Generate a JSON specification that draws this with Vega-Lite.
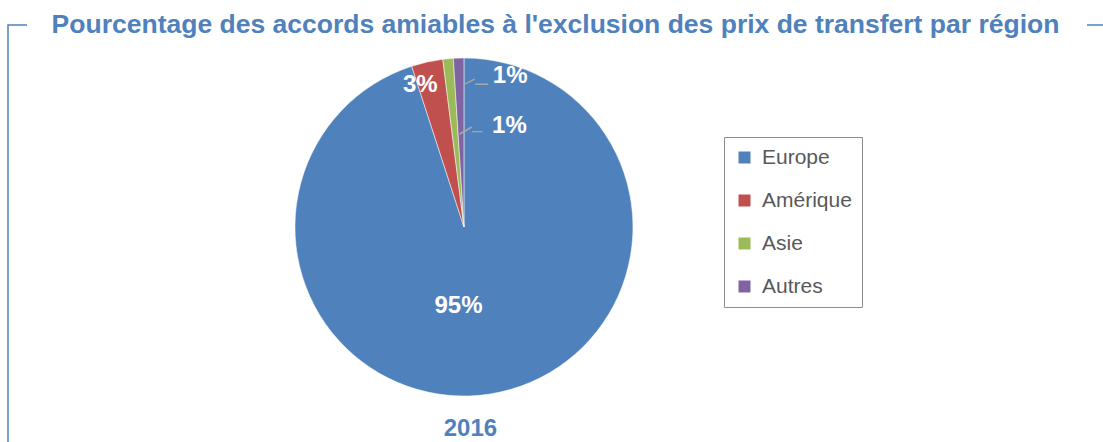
{
  "$schema": "https://vega.github.io/schema/vega-lite/v6.json",
  "width": 1095,
  "height": 417,
  "autosize": {"type": "none"},
  "padding": {"left": 8, "top": 25, "right": 0, "bottom": 0},
  "background": "white",
  "title": {
    "text": "Pourcentage des accords amiables à l'exclusion des prix de transfert par région",
    "font": "Liberation Sans",
    "fontSize": 26.5,
    "fontWeight": "bold",
    "color": "#4F81BD",
    "anchor": "middle",
    "dy": 26,
    "baseline": "alphabetic",
    "offset": -8
  },
  "config": {
    "view": {"stroke": "#4F81BD", "strokeWidth": 1.5, "strokeDash": [19, 1060, 16, 1512, 417]},
    "axis": {"grid": false}
  },
  "data": {
    "values": [
      {"year": "2016", "region": "Europe", "pct": 95, "label": "95%", "idx": 1},
      {"year": "2016", "region": "Amérique", "pct": 3, "label": "3%", "idx": 2},
      {"year": "2016", "region": "Asie", "pct": 1, "label": "1%", "idx": 3},
      {"year": "2016", "region": "Autres", "pct": 1, "label": "1%", "idx": 4}
    ]
  },
  "encoding": {
    "x": {
      "field": "year",
      "type": "nominal",
      "scale": {"type": "point", "align": 0.4164},
      "axis": {
        "title": null,
        "domain": false,
        "ticks": false,
        "labelAngle": 0,
        "labelFont": "Liberation Sans",
        "labelFontSize": 24,
        "labelFontWeight": "bold",
        "labelColor": "#4F81BD",
        "labelBaseline": "middle",
        "labelPadding": 0,
        "labelOffset": 6,
        "offset": -14
      }
    },
    "y": {
      "field": "year",
      "type": "nominal",
      "scale": {"type": "point", "align": 0.4844},
      "axis": null
    },
    "theta": {"field": "pct", "type": "quantitative", "stack": true},
    "order": {"field": "idx", "type": "quantitative"}
  },
  "layer": [
    {
      "mark": {"type": "arc", "outerRadius": 169, "stroke": "white", "strokeWidth": 0.5},
      "encoding": {
        "color": {
          "field": "region",
          "type": "nominal",
          "sort": null,
          "scale": {
            "domain": ["Europe", "Amérique", "Asie", "Autres"],
            "range": ["#4F81BD", "#C0504D", "#9BBB59", "#8064A2"]
          },
          "legend": {
            "orient": "none",
            "legendX": 716,
            "legendY": 112,
            "title": null,
            "strokeColor": "#8c8c8c",
            "padding": 10,
            "symbolType": "square",
            "symbolSize": 144,
            "symbolStrokeWidth": 0,
            "labelFont": "Liberation Sans",
            "labelFontSize": 21,
            "labelColor": "#595959",
            "labelOffset": 7,
            "rowPadding": 21
          }
        }
      }
    },
    {
      "mark": {"type": "text", "radius": 144.3, "dx": 22, "baseline": "middle", "align": "center", "font": "Liberation Sans", "fontSize": 23, "fill": "#A6A6A6"},
      "encoding": {
        "text": {"condition": {"test": "datum.region === 'Autres'", "value": "–"}, "value": ""}
      }
    },
    {
      "mark": {"type": "text", "radius": 141.5, "dx": 10.5, "angle": -27, "baseline": "middle", "align": "center", "font": "Liberation Sans", "fontSize": 20, "fill": "#A6A6A6"},
      "encoding": {
        "text": {"condition": {"test": "datum.region === 'Autres'", "value": "–"}, "value": ""}
      }
    },
    {
      "mark": {"type": "text", "radius": 96.4, "dx": 22, "baseline": "middle", "align": "center", "font": "Liberation Sans", "fontSize": 18, "fill": "#A6A6A6"},
      "encoding": {
        "text": {"condition": {"test": "datum.region === 'Asie'", "value": "–"}, "value": ""}
      }
    },
    {
      "mark": {"type": "text", "radius": 92.9, "dx": 11, "angle": -30, "baseline": "middle", "align": "center", "font": "Liberation Sans", "fontSize": 25, "fill": "#A6A6A6"},
      "encoding": {
        "text": {"condition": {"test": "datum.region === 'Asie'", "value": "–"}, "value": ""}
      }
    },
    {
      "mark": {"type": "text", "radius": 80, "dx": -18, "baseline": "middle", "font": "Liberation Sans", "fontSize": 24, "fontWeight": "bold", "fill": "white"},
      "encoding": {
        "text": {"condition": {"test": "datum.region === 'Europe'", "field": "label"}, "value": ""}
      }
    },
    {
      "mark": {"type": "text", "radius": 145, "dx": -12, "baseline": "middle", "font": "Liberation Sans", "fontSize": 24, "fontWeight": "bold", "fill": "white"},
      "encoding": {
        "text": {"condition": {"test": "datum.region === 'Amérique'", "field": "label"}, "value": ""}
      }
    },
    {
      "mark": {"type": "text", "radius": 101, "dx": 55, "baseline": "middle", "font": "Liberation Sans", "fontSize": 24, "fontWeight": "bold", "fill": "white"},
      "encoding": {
        "text": {"condition": {"test": "datum.region === 'Asie'", "field": "label"}, "value": ""}
      }
    },
    {
      "mark": {"type": "text", "radius": 151, "dx": 51, "baseline": "middle", "font": "Liberation Sans", "fontSize": 24, "fontWeight": "bold", "fill": "white"},
      "encoding": {
        "text": {"condition": {"test": "datum.region === 'Autres'", "field": "label"}, "value": ""}
      }
    }
  ]
}
